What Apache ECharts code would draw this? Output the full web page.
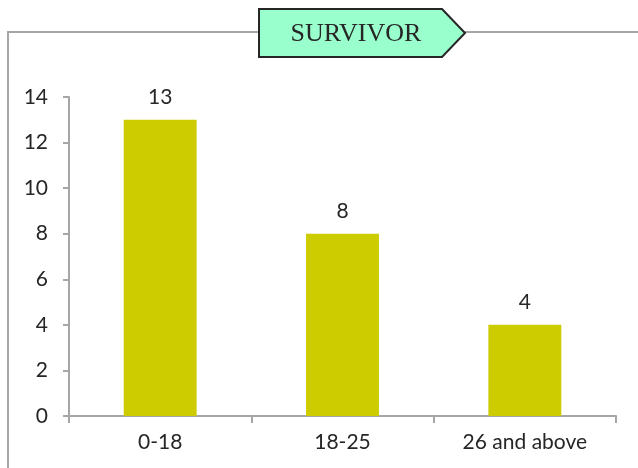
<!DOCTYPE html>
<html>
<head>
<meta charset="utf-8">
<script src="https://cdn.jsdelivr.net/npm/echarts@6/dist/echarts.min.js"></script>
<style>
  html, body { margin: 0; padding: 0; background: #fff; }
  #chart { width: 638px; height: 468px; }
</style>
</head>
<body>
<div id="chart"></div>
<script>
// 年龄组和幸存人数
var categories = ['0-18', '18-25', '26 and above'];
var survivors = [13, 8, 4];
var yTicks = [0, 2, 4, 6, 8, 10, 12, 14];

(function () {
  var myChart = echarts.init(document.getElementById('chart'));
  var font = 'Lato, "Open Sans", sans-serif';

  var option = {
    backgroundColor: '#fff',
    animation: false,
    grid: { left: 69, right: 22, top: 97, bottom: 52 },
    graphic: [
      // 外框（只有上边和左边可见）
      {
        type: 'polyline',
        shape: { points: [[8, 470], [8, 32], [640, 32]] },
        style: { stroke: '#a6a6a6', lineWidth: 2, fill: null },
        z: 1
      },
      // 标题箭头框
      {
        type: 'polygon',
        shape: { points: [[259, 9], [442, 9], [465, 33], [442, 57], [259, 57]] },
        style: { fill: '#99ffcc', stroke: '#262626', lineWidth: 2 },
        z: 10
      },
      {
        type: 'text',
        x: 356,
        y: 34,
        style: {
          text: 'SURVIVOR',
          font: '26px "Liberation Serif", "Times New Roman", serif',
          fill: '#262626',
          align: 'center',
          verticalAlign: 'middle'
        },
        z: 11
      }
    ],
    xAxis: {
      type: 'category',
      data: categories,
      axisLine: { lineStyle: { color: '#a6a6a6', width: 2 } },
      axisTick: { show: true, length: 7, inside: false, lineStyle: { color: '#a6a6a6', width: 2 } },
      axisLabel: { color: '#262626', fontSize: 21, fontFamily: font, margin: 16 }
    },
    yAxis: {
      type: 'value',
      min: yTicks[0],
      max: yTicks[yTicks.length - 1],
      interval: 2,
      splitLine: { show: false },
      axisLine: { show: true, lineStyle: { color: '#a6a6a6', width: 2 } },
      axisTick: { show: true, length: 6, lineStyle: { color: '#a6a6a6', width: 2 } },
      axisLabel: { color: '#262626', fontSize: 21, fontFamily: font, margin: 21 }
    },
    series: [{
      type: 'bar',
      data: survivors,
      barWidth: '40%',
      itemStyle: { color: '#cccc00' },
      label: {
        show: true,
        position: 'top',
        distance: 12,
        color: '#262626',
        fontSize: 21,
        fontFamily: font
      }
    }]
  };

  myChart.setOption(option);
  window.addEventListener('resize', function () {
    myChart.resize();
  });
})();
</script>
</body>
</html>
